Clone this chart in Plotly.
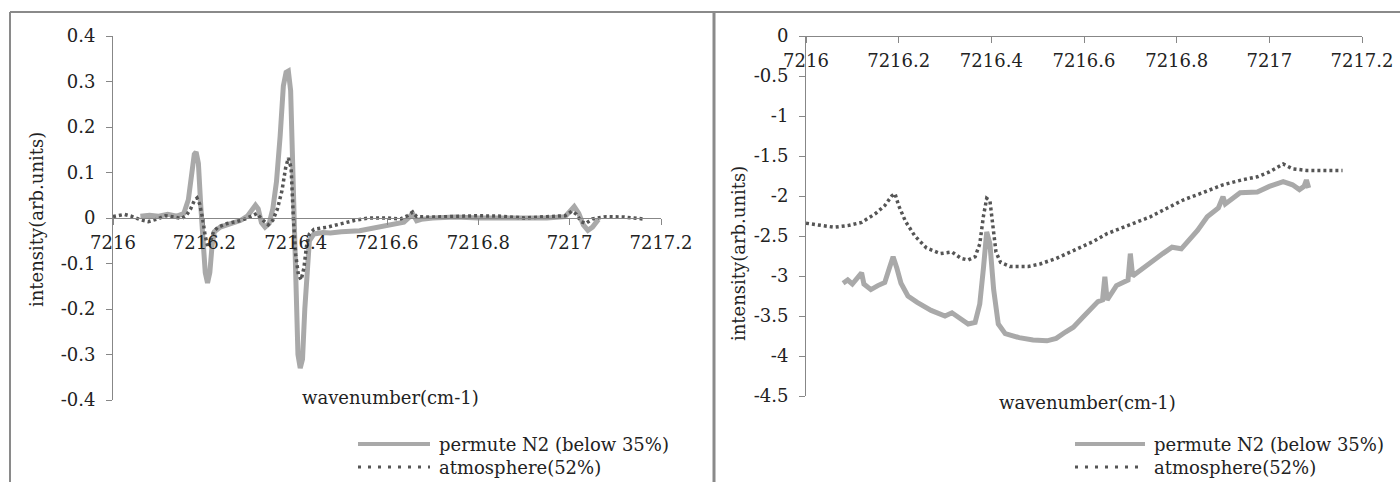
import plotly.graph_objects as go

# ---------------- data ----------------
# Left chart: derivative-like spectra
left_n2_x = [7216.06, 7216.08, 7216.10, 7216.12, 7216.14, 7216.155, 7216.165, 7216.172, 7216.178,
             7216.182, 7216.187, 7216.192, 7216.197, 7216.202, 7216.207, 7216.212, 7216.217,
             7216.222, 7216.235, 7216.26, 7216.28, 7216.295, 7216.305, 7216.312, 7216.318,
             7216.325, 7216.333, 7216.342, 7216.35, 7216.358, 7216.366, 7216.373, 7216.379,
             7216.384, 7216.389, 7216.393, 7216.397, 7216.401, 7216.405, 7216.41, 7216.415,
             7216.42, 7216.425, 7216.43, 7216.44, 7216.46, 7216.476, 7216.5, 7216.54, 7216.586,
             7216.62, 7216.637, 7216.647, 7216.656, 7216.665, 7216.675, 7216.7, 7216.75, 7216.8,
             7216.85, 7216.9, 7216.95, 7216.99, 7217.0, 7217.01, 7217.02, 7217.03, 7217.04,
             7217.05, 7217.063]
left_n2_y = [0.004, 0.006, 0.004, 0.008, 0.004, 0.01, 0.04, 0.10, 0.14,
             0.145, 0.12, 0.03, -0.06, -0.12, -0.143, -0.12, -0.06,
             -0.03, -0.02, -0.012, -0.005, 0.005, 0.02, 0.028, 0.02,
             -0.01, -0.02, -0.012, 0.02, 0.08, 0.18, 0.29, 0.32,
             0.323, 0.28, 0.15, -0.02, -0.18, -0.30, -0.33, -0.31,
             -0.20, -0.10, -0.05, -0.035, -0.032, -0.033, -0.03, -0.028, -0.02,
             -0.014, -0.009, 0.0, 0.01, -0.006, -0.003, 0.0, 0.002, 0.0,
             0.0, -0.002, 0.0, 0.003, 0.015, 0.025, 0.01, -0.015, -0.027,
             -0.02, -0.003]

left_air_x = [7216.0, 7216.01, 7216.025, 7216.04, 7216.06, 7216.077, 7216.095, 7216.115, 7216.13,
              7216.15, 7216.16, 7216.17, 7216.178, 7216.184, 7216.19, 7216.196, 7216.202,
              7216.208, 7216.214, 7216.22, 7216.23, 7216.25, 7216.27, 7216.29, 7216.305,
              7216.315, 7216.325, 7216.34, 7216.35, 7216.36, 7216.37, 7216.378, 7216.384,
              7216.39, 7216.395, 7216.40, 7216.406, 7216.412, 7216.418, 7216.424, 7216.43,
              7216.44, 7216.47, 7216.50, 7216.53, 7216.56, 7216.60, 7216.63, 7216.645,
              7216.656, 7216.665, 7216.70, 7216.75, 7216.80, 7216.85, 7216.90, 7216.95,
              7216.99, 7217.005, 7217.015, 7217.025, 7217.035, 7217.05, 7217.08, 7217.12,
              7217.16]
left_air_y = [0.003, 0.005, 0.008, 0.004, -0.004, -0.008, -0.003, 0.005, 0.003,
              -0.001, 0.005, 0.02, 0.038, 0.044, 0.03, 0.0, -0.04,
              -0.065, -0.05, -0.03, -0.02, -0.012, -0.008, -0.002, 0.005,
              0.01, -0.002, -0.015, -0.005, 0.02, 0.06, 0.11, 0.132,
              0.11, 0.0, -0.08, -0.125, -0.136, -0.11, -0.06, -0.035,
              -0.025, -0.02, -0.012, -0.005, 0.0, 0.0, -0.002, 0.005,
              0.013, 0.003, 0.002, 0.003, 0.005, 0.004, 0.0, 0.003,
              0.005, 0.015, 0.008, -0.008, -0.012, -0.002, 0.003, 0.002,
              -0.002]

# Right chart: absorption-like spectra
right_n2_x = [7216.08, 7216.09, 7216.10, 7216.11, 7216.12, 7216.125, 7216.14, 7216.155, 7216.17,
              7216.18, 7216.188, 7216.196, 7216.205, 7216.22, 7216.24, 7216.27, 7216.30,
              7216.315, 7216.33, 7216.35, 7216.365, 7216.375, 7216.383, 7216.39, 7216.397,
              7216.405, 7216.415, 7216.43, 7216.46, 7216.49, 7216.52, 7216.54, 7216.56,
              7216.577, 7216.60, 7216.615, 7216.63, 7216.64, 7216.645, 7216.65, 7216.67,
              7216.695, 7216.70, 7216.705, 7216.74, 7216.77, 7216.79, 7216.81, 7216.845,
              7216.866, 7216.89, 7216.90, 7216.905, 7216.937, 7216.974, 7217.0, 7217.03,
              7217.05, 7217.065, 7217.075, 7217.08, 7217.085]
right_n2_y = [-3.09, -3.05, -3.10, -3.02, -2.96, -3.10, -3.17, -3.12, -3.08,
              -2.90, -2.76, -2.90, -3.09, -3.25, -3.33, -3.43, -3.50,
              -3.46, -3.52, -3.60, -3.58, -3.35, -2.90, -2.45, -2.60,
              -3.17, -3.60, -3.72, -3.77, -3.80, -3.81, -3.78, -3.70,
              -3.64, -3.50, -3.40, -3.32, -3.30, -3.01, -3.30, -3.12,
              -3.05, -2.72, -3.00, -2.84, -2.72, -2.64, -2.66, -2.43,
              -2.26, -2.15, -2.01, -2.10, -1.96, -1.95, -1.88, -1.82,
              -1.86, -1.92, -1.88, -1.80, -1.90]

right_air_x = [7216.0, 7216.03, 7216.06, 7216.09, 7216.12, 7216.15, 7216.17, 7216.185, 7216.192,
               7216.20, 7216.215, 7216.235, 7216.26, 7216.29, 7216.315, 7216.335, 7216.35,
               7216.365, 7216.375, 7216.383, 7216.39, 7216.397, 7216.403, 7216.41, 7216.42,
               7216.44, 7216.48, 7216.505, 7216.54, 7216.577, 7216.62, 7216.65, 7216.70,
               7216.743, 7216.78, 7216.814, 7216.86, 7216.90, 7216.94, 7216.974, 7217.0,
               7217.03, 7217.05, 7217.08, 7217.12, 7217.158]
right_air_y = [-2.34, -2.36, -2.39, -2.37, -2.33, -2.22, -2.12, -2.00, -1.97,
               -2.12, -2.32, -2.50, -2.65, -2.72, -2.70, -2.78, -2.80,
               -2.76, -2.60, -2.25, -2.03, -2.06, -2.35, -2.70, -2.83,
               -2.88, -2.88, -2.85, -2.78, -2.68, -2.57, -2.47, -2.36,
               -2.26, -2.15, -2.05, -1.95, -1.86, -1.80, -1.76, -1.70,
               -1.60, -1.66, -1.68, -1.68, -1.68]

series_names = ["permute N2 (below 35%)", "atmosphere(52%)"]

x_tickvals = [7216, 7216.2, 7216.4, 7216.6, 7216.8, 7217, 7217.2]
x_ticktext = ["7216", "7216.2", "7216.4", "7216.6", "7216.8", "7217", "7217.2"]
left_y_tickvals = [0.4, 0.3, 0.2, 0.1, 0, -0.1, -0.2, -0.3, -0.4]
left_y_ticktext = ["0.4", "0.3", "0.2", "0.1", "0", "-0.1", "-0.2", "-0.3", "-0.4"]
right_y_tickvals = [0, -0.5, -1, -1.5, -2, -2.5, -3, -3.5, -4, -4.5]
right_y_ticktext = ["0", "-0.5", "-1", "-1.5", "-2", "-2.5", "-3", "-3.5", "-4", "-4.5"]

x_title = "wavenumber(cm-1)"
y_title = "intensity(arb.units)"

# ---------------- styling ----------------
W, H = 1400, 482
FONT = "DejaVu Serif"
FS = 18
TXT = "#222222"
AX = "#878787"
N2_COLOR = "#a9a9a9"
AIR_COLOR = "#555555"


def fx(p):
    return p / W


def fy(p):
    return 1 - p / H


fig = go.Figure()

fig.add_trace(go.Scatter(x=left_n2_x, y=left_n2_y, mode="lines", name=series_names[0],
                         line=dict(color=N2_COLOR, width=5), xaxis="x", yaxis="y",
                         showlegend=False))
fig.add_trace(go.Scatter(x=left_air_x, y=left_air_y, mode="lines", name=series_names[1],
                         line=dict(color=AIR_COLOR, width=3.5, dash="3px,3px"),
                         xaxis="x", yaxis="y", showlegend=False))
fig.add_trace(go.Scatter(x=right_n2_x, y=right_n2_y, mode="lines", name=series_names[0],
                         line=dict(color=N2_COLOR, width=5), xaxis="x2", yaxis="y2",
                         showlegend=False))
fig.add_trace(go.Scatter(x=right_air_x, y=right_air_y, mode="lines", name=series_names[1],
                         line=dict(color=AIR_COLOR, width=3.5, dash="3px,3px"),
                         xaxis="x2", yaxis="y2", showlegend=False))

axis_common = dict(showline=True, linecolor=AX, linewidth=1, ticks="outside", ticklen=6,
                   tickcolor=AX, tickwidth=1, showgrid=False, zeroline=False,
                   tickfont=dict(family=FONT, size=FS, color=TXT), automargin=False,
                   fixedrange=True)

fig.update_layout(
    width=W, height=H,
    margin=dict(l=0, r=0, t=0, b=0),
    paper_bgcolor="white", plot_bgcolor="rgba(0,0,0,0)",
    showlegend=False,
    font=dict(family=FONT, size=FS, color=TXT),
    xaxis=dict(domain=[fx(113), fx(661)], range=[7216, 7217.2], tickmode="array",
               tickvals=x_tickvals, ticktext=x_ticktext, anchor="free", position=fy(218),
               side="bottom", ticklabelstandoff=2, **axis_common),
    yaxis=dict(domain=[fy(400), fy(36)], range=[-0.4, 0.4], tickmode="array",
               tickvals=left_y_tickvals, ticktext=left_y_ticktext, anchor="x",
               ticklabelstandoff=7, **axis_common),
    xaxis2=dict(domain=[fx(806), fx(1362)], range=[7216, 7217.2], tickmode="array",
                tickvals=x_tickvals, ticktext=x_ticktext, anchor="free", position=fy(36),
                side="bottom", ticklabelstandoff=2, **axis_common),
    yaxis2=dict(domain=[fy(396), fy(36)], range=[-4.5, 0], tickmode="array",
                tickvals=right_y_tickvals, ticktext=right_y_ticktext, anchor="x2",
                ticklabelstandoff=7, **axis_common),
)

# chart frames
frame = dict(color="#8a8a8a", width=2)
fig.add_shape(type="line", xref="paper", yref="paper", x0=fx(10), x1=1, y0=fy(12), y1=fy(12), line=frame)
fig.add_shape(type="line", xref="paper", yref="paper", x0=fx(10), x1=fx(10), y0=fy(12), y1=0, line=frame)
fig.add_shape(type="line", xref="paper", yref="paper", x0=fx(714), x1=fx(714), y0=fy(12), y1=0,
              line=dict(color="#8a8a8a", width=3))

# axis titles
tfont = dict(family=FONT, size=FS, color=TXT)
for (xc, yc) in [(390, 397), (1087, 402)]:
    fig.add_annotation(text=x_title, xref="paper", yref="paper", x=fx(xc), y=fy(yc),
                       xanchor="center", yanchor="middle", showarrow=False, font=tfont)
for (xc, yc) in [(37, 220), (738, 254)]:
    fig.add_annotation(text=y_title, xref="paper", yref="paper", x=fx(xc), y=fy(yc),
                       xanchor="center", yanchor="middle", textangle=-90, showarrow=False,
                       font=tfont)

# legends
for (x0, x1, xt) in [(358, 430, 437), (1075, 1145, 1152)]:
    fig.add_shape(type="line", xref="paper", yref="paper", x0=fx(x0), x1=fx(x1), y0=fy(444), y1=fy(444),
                  line=dict(color=N2_COLOR, width=4))
    fig.add_shape(type="line", xref="paper", yref="paper", x0=fx(x0), x1=fx(x1), y0=fy(467), y1=fy(467),
                  line=dict(color=AIR_COLOR, width=3, dash="3px,7px"))
    for name, yc in zip(series_names, [444, 467]):
        fig.add_annotation(text=name, xref="paper", yref="paper", x=fx(xt), y=fy(yc),
                           xanchor="left", yanchor="middle", showarrow=False, font=tfont)

fig.write_html("out.html", config={"displayModeBar": False},
               post_script="document.body.style.margin='0';")
